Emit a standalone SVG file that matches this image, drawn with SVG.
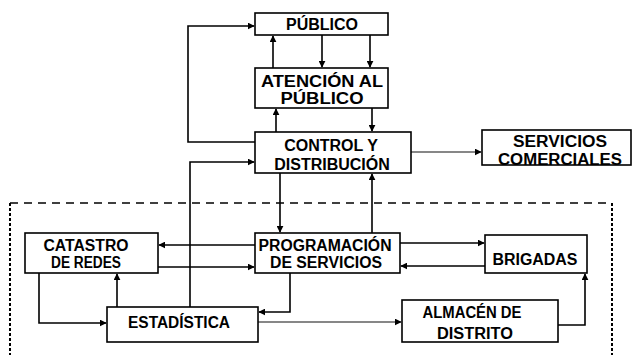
<svg xmlns="http://www.w3.org/2000/svg" width="634" height="355" viewBox="0 0 634 355">
<style>
.box{fill:#fff;stroke:#000;stroke-width:1.6}
.t{font-family:"Liberation Sans",Arial,sans-serif;font-weight:bold;font-size:16px;fill:#000;text-anchor:middle}
.c{fill:none;stroke:#000;stroke-width:1.6}
.thin{fill:none;stroke:#111;stroke-width:1.2}
.dh{fill:none;stroke:#000;stroke-width:1.5;stroke-dasharray:8 6}
.dv{fill:none;stroke:#000;stroke-width:2;stroke-dasharray:3 2}
</style>
<defs>
<marker id="a" viewBox="0 0 10 10" refX="9" refY="5" markerWidth="7" markerHeight="7" markerUnits="userSpaceOnUse" orient="auto"><path d="M0,0L10,5L0,10z" fill="#000"/></marker>
</defs>
<rect width="634" height="355" fill="#fff"/>
<g id="boundary">
<path class="dh" d="M10,203H612"/>
<path class="dv" d="M10,203V355"/>
<path class="dv" d="M612,203V355"/>
</g>
<g id="connectors">
<path class="c" d="M273,68V36" marker-end="url(#a)"/>
<path class="c" d="M322,35V67" marker-end="url(#a)"/>
<path class="c" d="M370,35V67" marker-end="url(#a)"/>
<path class="c" d="M276,132V109" marker-end="url(#a)"/>
<path class="c" d="M372,108V131" marker-end="url(#a)"/>
<path class="c" d="M255,142H188V26H254" marker-end="url(#a)"/>
<path class="c" d="M190,307V162H254" marker-end="url(#a)"/>
<path class="c" d="M280,173V232" marker-end="url(#a)"/>
<path class="c" d="M372,233V174" marker-end="url(#a)"/>
<path class="thin" d="M411,152H481" marker-end="url(#a)"/>
<path class="c" d="M255,245H159" marker-end="url(#a)"/>
<path class="c" d="M158,267H254" marker-end="url(#a)"/>
<path class="c" d="M400,243H484" marker-end="url(#a)"/>
<path class="c" d="M485,266H401" marker-end="url(#a)"/>
<path class="c" d="M39,273V323H106" marker-end="url(#a)"/>
<path class="c" d="M117,307V274" marker-end="url(#a)"/>
<path class="c" d="M290,273V312H259" marker-end="url(#a)"/>
<path class="thin" d="M258,322H401" marker-end="url(#a)"/>
<path class="c" d="M558,325H585V274" marker-end="url(#a)"/>
</g>
<g id="publico">
<rect class="box" x="255" y="13" width="133" height="22"/>
<text class="t" x="322" y="30" font-size="17">PÚBLICO</text>
</g>
<g id="atencion">
<rect class="box" x="255" y="68" width="133" height="40"/>
<text class="t" x="322" y="87" textLength="122" lengthAdjust="spacingAndGlyphs">ATENCIÓN AL</text>
<text class="t" x="322" y="104" textLength="83" lengthAdjust="spacingAndGlyphs">PÚBLICO</text>
</g>
<g id="control">
<rect class="box" x="255" y="132" width="156" height="41"/>
<text class="t" x="331" y="151" font-size="17">CONTROL Y</text>
<text class="t" x="332" y="170" font-size="17">DISTRIBUCIÓN</text>
</g>
<g id="servicios">
<rect class="box" x="482" y="130" width="149" height="35"/>
<text class="t" x="560" y="147" textLength="94" lengthAdjust="spacingAndGlyphs">SERVICIOS</text>
<text class="t" x="560" y="165" textLength="124" lengthAdjust="spacingAndGlyphs">COMERCIALES</text>
</g>
<g id="catastro">
<rect class="box" x="25" y="233" width="133" height="40"/>
<text class="t" x="86" y="251" textLength="85" lengthAdjust="spacingAndGlyphs">CATASTRO</text>
<text class="t" x="86" y="268" textLength="70" lengthAdjust="spacingAndGlyphs">DE REDES</text>
</g>
<g id="programacion">
<rect class="box" x="255" y="233" width="145" height="40"/>
<text class="t" x="325" y="251" textLength="133" lengthAdjust="spacingAndGlyphs">PROGRAMACIÓN</text>
<text class="t" x="326" y="268" textLength="112" lengthAdjust="spacingAndGlyphs">DE SERVICIOS</text>
</g>
<g id="brigadas">
<rect class="box" x="485" y="235" width="102" height="38"/>
<text class="t" x="535" y="265" textLength="85" lengthAdjust="spacingAndGlyphs">BRIGADAS</text>
</g>
<g id="estadistica">
<rect class="box" x="107" y="307" width="151" height="35"/>
<text class="t" x="179" y="328" textLength="102" lengthAdjust="spacingAndGlyphs">ESTADÍSTICA</text>
</g>
<g id="almacen">
<rect class="box" x="402" y="300" width="156" height="42"/>
<text class="t" x="472" y="318" textLength="99" lengthAdjust="spacingAndGlyphs">ALMACÉN DE</text>
<text class="t" x="475" y="339" textLength="76" lengthAdjust="spacingAndGlyphs">DISTRITO</text>
</g>
</svg>
